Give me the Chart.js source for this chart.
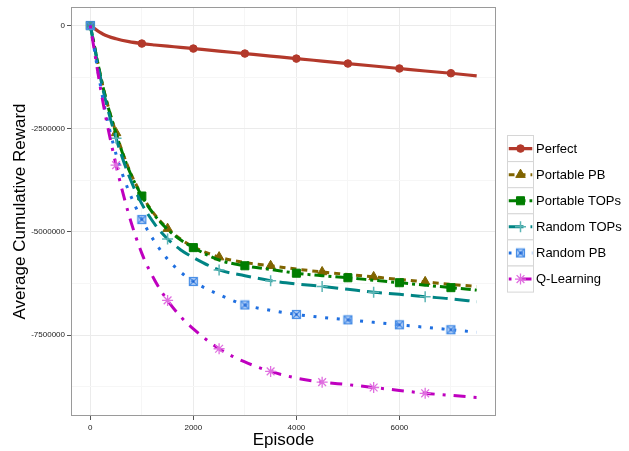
<!DOCTYPE html>
<html>
<head>
<meta charset="utf-8">
<title>Average Cumulative Reward</title>
<script src="https://cdn.jsdelivr.net/npm/chart.js@4.4.1/dist/chart.umd.min.js"></script>
<style>
  html, body { margin: 0; padding: 0; background: #fff; }
  #wrap { width: 629px; height: 451px; }
</style>
</head>
<body>
<div id="wrap"><canvas id="rewardChart" width="629" height="451"></canvas></div>
<script>
// episodes sampled along the curves
const episodes = [0, 250, 500, 750, 1000, 1250, 1500, 1750, 2000, 2500, 3000, 3500, 4000, 4500, 5000, 5500, 6000, 6500, 7000, 7500];

const perfect      = [0, -210000, -320000, -390000, -436000, -470000, -500000, -527000, -557000, -617000, -678000, -739000, -800000, -860000, -920000, -980000, -1040000, -1100000, -1155000, -1220000];
const portablePB   = [0, -1500000, -2600000, -3480000, -4110000, -4580000, -4920000, -5170000, -5360000, -5610000, -5740000, -5820000, -5900000, -5970000, -6030000, -6090000, -6150000, -6210000, -6270000, -6320000];
const portableTOPs = [0, -1510000, -2620000, -3500000, -4130000, -4600000, -4940000, -5190000, -5380000, -5680000, -5820000, -5910000, -6000000, -6060000, -6110000, -6170000, -6230000, -6290000, -6350000, -6410000];
const randomTOPs   = [0, -1570000, -2730000, -3640000, -4320000, -4810000, -5170000, -5430000, -5620000, -5920000, -6060000, -6180000, -6260000, -6320000, -6390000, -6460000, -6510000, -6570000, -6620000, -6690000];
const randomPB     = [0, -1810000, -3120000, -4020000, -4700000, -5240000, -5660000, -5970000, -6200000, -6520000, -6770000, -6900000, -7000000, -7070000, -7130000, -7190000, -7250000, -7310000, -7370000, -7430000];
const qLearning    = [0, -1890000, -3380000, -4590000, -5520000, -6170000, -6660000, -7050000, -7350000, -7830000, -8150000, -8380000, -8540000, -8640000, -8700000, -8770000, -8840000, -8910000, -8960000, -9010000];

// where each series shows its marker
const markEven = [0, 1000, 2000, 3000, 4000, 5000, 6000, 7000];
const markOdd  = [500, 1500, 2500, 3500, 4500, 5500, 6500];

const seriesNames = ['Perfect', 'Portable PB', 'Portable TOPs', 'Random TOPs', 'Random PB', 'Q-Learning'];

const xMajor = [0, 2000, 4000, 6000];
const xMinor = [1000, 3000, 5000, 7000];
const yMajor = [0, -2500000, -5000000, -7500000];
const yMinor = [-1250000, -3750000, -6250000, -8750000];

Chart.defaults.font.family = "'Liberation Sans', Arial, Helvetica, sans-serif";

function crossedSquare() {
    const c = document.createElement('canvas');
    c.width = 11; c.height = 11;
    const g = c.getContext('2d');
    g.fillStyle = 'rgba(120,170,240,0.55)';
    g.fillRect(1, 1, 9, 9);
    g.strokeStyle = '#4a8fe6';
    g.lineWidth = 1.2;
    g.strokeRect(1.5, 1.5, 8, 8);
    g.beginPath();
    g.moveTo(2, 2); g.lineTo(9, 9);
    g.moveTo(9, 2); g.lineTo(2, 9);
    g.stroke();
    g.fillStyle = '#1c5fcf';
    g.fillRect(4.5, 4.5, 2, 2);
    return c;
}

function makeSeries(i, values, opts) {
    const marks = opts.marks;
    return {
        label: seriesNames[i],
        data: episodes.map((e, k) => ({ x: e, y: values[k] })),
        borderColor: opts.color,
        borderWidth: opts.width || 3,
        borderDash: opts.dash,
        borderCapStyle: 'butt',
        cubicInterpolationMode: 'monotone',
        fill: false,
        pointStyle: opts.style,
        pointBackgroundColor: opts.pointFill,
        pointBorderColor: opts.pointLine,
        pointBorderWidth: opts.pointWidth,
        pointRadius: ctx => marks.includes(episodes[ctx.dataIndex]) ? opts.radius : 0,
        keyRadius: opts.radius,
        order: 6 - i
    };
}

const datasets = [
    makeSeries(0, perfect,      { color: '#b3392b', width: 3.2, dash: [], marks: markEven, style: 'circle', radius: 3.8, pointFill: '#b3392b', pointLine: '#b3392b', pointWidth: 1 }),
    makeSeries(1, portablePB,   { color: '#806400', dash: [6, 5], marks: markOdd, style: 'triangle', radius: 5.5, pointFill: '#806400', pointLine: '#806400', pointWidth: 1 }),
    makeSeries(2, portableTOPs, { color: '#007d00', dash: [10, 4, 3, 4], marks: markEven, style: 'rect', radius: 5.7, pointFill: '#007d00', pointLine: '#007d00', pointWidth: 1 }),
    makeSeries(3, randomTOPs,   { color: '#008484', dash: [15, 7], marks: markOdd, style: 'cross', radius: 5.5, pointFill: '#5cb5b5', pointLine: '#5cb5b5', pointWidth: 1.5 }),
    makeSeries(4, randomPB,     { color: '#1f6fe0', dash: [3, 8.7], marks: markEven, style: crossedSquare(), radius: 5, pointFill: '#1f6fe0', pointLine: '#1f6fe0', pointWidth: 1 }),
    makeSeries(5, qLearning,    { color: '#bf00bf', dash: [3, 8, 12, 8], marks: markOdd, style: 'star', radius: 5.5, pointFill: '#e070e0', pointLine: '#e070e0', pointWidth: 1.3 })
];

const panelBorder = {
    id: 'panelBorder',
    afterDatasetsDraw(chart) {
        const { ctx, chartArea: a } = chart;
        ctx.save();
        ctx.strokeStyle = '#9a9a9a';
        ctx.lineWidth = 1;
        ctx.strokeRect(a.left + 0.5, a.top + 0.5, a.right - a.left - 1, a.bottom - a.top - 1);
        ctx.restore();
    }
};

const sideLegend = {
    id: 'sideLegend',
    afterDraw(chart) {
        const ctx = chart.ctx;
        const x0 = 507.5, y0 = 135.5, w = 26, h = 26.1;
        chart.data.datasets.forEach((ds, i) => {
            const top = y0 + i * h;
            const cy = top + h / 2;
            ctx.save();
            ctx.fillStyle = '#fff';
            ctx.fillRect(x0, top, w, h);
            ctx.strokeStyle = '#d6d6d6';
            ctx.lineWidth = 1;
            ctx.strokeRect(x0, top, w, h);
            ctx.beginPath();
            ctx.rect(x0 + 1, top + 1, w - 2, h - 2);
            ctx.clip();
            ctx.strokeStyle = ds.borderColor;
            ctx.lineWidth = ds.borderWidth;
            ctx.setLineDash(ds.borderDash);
            ctx.beginPath();
            ctx.moveTo(x0 + 1, cy);
            ctx.lineTo(x0 + w - 1, cy);
            ctx.stroke();
            ctx.setLineDash([]);
            ctx.fillStyle = ds.pointBackgroundColor;
            ctx.strokeStyle = ds.pointBorderColor;
            ctx.lineWidth = ds.pointBorderWidth;
            if (Chart.helpers && Chart.helpers.drawPoint) {
                Chart.helpers.drawPoint(ctx, { pointStyle: ds.pointStyle, radius: ds.keyRadius, borderWidth: ds.pointBorderWidth, rotation: 0 }, x0 + w / 2, cy);
            }
            ctx.restore();
            ctx.save();
            ctx.fillStyle = '#000';
            ctx.font = "13px 'Liberation Sans', Arial, sans-serif";
            ctx.textBaseline = 'middle';
            ctx.fillText(ds.label, 536, cy + 0.5);
            ctx.restore();
        });
    }
};

new Chart(document.getElementById('rewardChart'), {
    type: 'line',
    data: { datasets },
    options: {
        responsive: false,
        devicePixelRatio: 1,
        animation: false,
        events: [],
        layout: { padding: { top: 7, right: 133, bottom: 0, left: 0 } },
        plugins: { legend: { display: false }, tooltip: { enabled: false } },
        scales: {
            x: {
                type: 'linear',
                min: -375,
                max: 7875,
                afterBuildTicks: s => { s.ticks = xMajor.concat(xMinor).map(v => ({ value: v })); },
                afterFit: s => { s.height = 35; },
                border: { display: false },
                grid: {
                    color: c => xMajor.includes(c.tick.value) ? '#ebebeb' : '#f6f6f6',
                    tickColor: c => xMajor.includes(c.tick.value) ? '#555' : 'rgba(0,0,0,0)',
                    tickLength: 4
                },
                ticks: {
                    autoSkip: false,
                    maxRotation: 0,
                    padding: 3,
                    color: '#222',
                    font: { size: 8 },
                    callback: v => xMajor.includes(v) ? String(v) : ''
                },
                title: { display: true, text: 'Episode', color: '#000', font: { size: 17 }, padding: { top: 0, bottom: 0 } }
            },
            y: {
                type: 'linear',
                min: -9460000,
                max: 450000,
                afterBuildTicks: s => { s.ticks = yMajor.concat(yMinor).map(v => ({ value: v })); },
                afterFit: s => { s.width = 71; },
                border: { display: false },
                grid: {
                    color: c => yMajor.includes(c.tick.value) ? '#ebebeb' : '#f6f6f6',
                    tickColor: c => yMajor.includes(c.tick.value) ? '#555' : 'rgba(0,0,0,0)',
                    tickLength: 4
                },
                ticks: {
                    autoSkip: false,
                    padding: 2,
                    color: '#222',
                    font: { size: 8 },
                    callback: v => yMajor.includes(v) ? String(v) : ''
                },
                title: { display: true, text: 'Average Cumulative Reward', color: '#000', font: { size: 17 }, padding: { top: 10, bottom: 0 } }
            }
        }
    },
    plugins: [panelBorder, sideLegend]
});
</script>
</body>
</html>
